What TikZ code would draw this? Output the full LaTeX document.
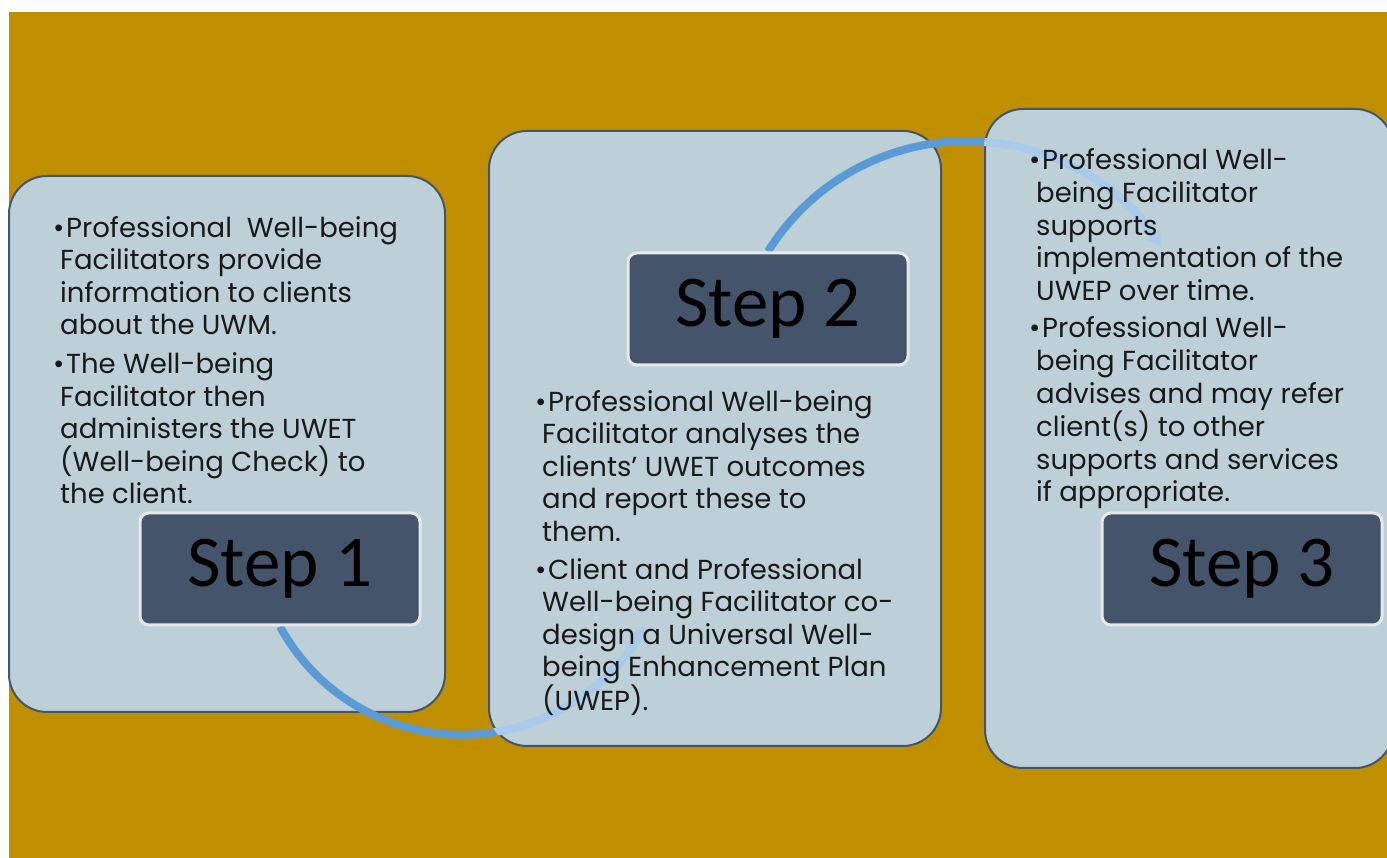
\documentclass[tikz,border=0pt]{standalone}
\usepackage{fontspec}
\setmainfont{Poppins}
\newfontfamily\stepfont{Carlito}
\usepackage{xcolor}
\usepackage{tikz}
\usetikzlibrary{arrows.meta, positioning}

\definecolor{bgGold}{HTML}{BF8F00}
\definecolor{panelFill}{HTML}{BED0D7}
\definecolor{slate}{HTML}{44546A}
\definecolor{flowBlue}{HTML}{5B9BD5}
\definecolor{flowPale}{HTML}{A9CAEA}
\definecolor{rim}{HTML}{E8E8E8}

% stacking order: each panel hides the part of the previous arc that runs under it
\pgfdeclarelayer{ground}
\pgfdeclarelayer{panelA}
\pgfdeclarelayer{arcA}
\pgfdeclarelayer{panelB}
\pgfdeclarelayer{arcB}
\pgfdeclarelayer{panelC}
\pgfsetlayers{ground,panelA,arcA,panelB,arcB,panelC,main}

\newcommand{\bul}{\hspace*{-7pt}\makebox[13pt][l]{\textbullet}}

\begin{document}
\begin{tikzpicture}[
    x=1pt, y=1pt,
    panel/.style={rectangle, draw=slate, line width=2pt, fill=panelFill, rounded corners=38pt, inner sep=0pt},
    stepbox/.style={rectangle, draw=rim, line width=3pt, fill=slate, rounded corners=9pt, minimum width=280pt, minimum height=112pt, text=black, font=\stepfont\fontsize{73}{80}\selectfont},
    notes/.style={anchor=base west, inner sep=0pt, align=left, text=black!90, font=\fontsize{27.5}{32.6}\selectfont},
    flow/.style={line width=8pt, draw=flowBlue, -{Triangle[width=16pt,length=14pt]}},
    flowhidden/.style={flow, draw=flowPale}
]
    \begin{pgfonlayer}{ground}
        \fill[white] (0,0) rectangle (1387,858);
        \fill[bgGold] (9,0) rectangle (1387,846);
    \end{pgfonlayer}
    \useasboundingbox (0,0) rectangle (1387,858);

    % the three panels
    \begin{pgfonlayer}{panelA}
        \node (box1) [panel, minimum width=436pt, minimum height=536pt] at (227,414) {};
    \end{pgfonlayer}
    \begin{pgfonlayer}{panelB}
        \node (box2) [panel, minimum width=452pt, minimum height=615pt] at (715,419.5) {};
    \end{pgfonlayer}
    \begin{pgfonlayer}{panelC}
        \node (box3) [panel, minimum width=408pt, minimum height=659pt] at (1189,419.5) {};
    \end{pgfonlayer}

    \node (s1) [stepbox] at (280,289) {Step 1};
    \node (s2) [stepbox] at (768,549) {Step 2};
    \node (s3) [stepbox] at (1242,289) {Step 3};

    % arcs between the steps
    \begin{pgfonlayer}{arcA}
        \draw [flow] (s1.south) arc[start angle=208.5, end angle=331.5, radius=207pt];
    \end{pgfonlayer}
    \begin{pgfonlayer}{panelB}
        \begin{scope}
            \clip [rounded corners=38pt] (box2.south west) rectangle (box2.north east);
            \draw [flowhidden] (s1.south) arc[start angle=208.5, end angle=331.5, radius=207pt];
        \end{scope}
    \end{pgfonlayer}
    \begin{pgfonlayer}{arcB}
        \draw [flow] (s2.north) arc[start angle=148.2, end angle=33.3, radius=233pt];
    \end{pgfonlayer}
    \begin{pgfonlayer}{panelC}
        \begin{scope}
            \clip [rounded corners=38pt] (box3.south west) rectangle (box3.north east);
            \draw [flowhidden] (s2.north) arc[start angle=148.2, end angle=33.3, radius=233pt];
        \end{scope}
    \end{pgfonlayer}

    % bullet texts (placed by the baseline of their last line)
    \node (t1) [notes] at (60,354) {\bul Professional\ \ Well-being\\
        Facilitators provide\\
        information to clients\\
        about the UWM.\\[6pt]
        \bul The Well-being\\
        Facilitator then\\
        administers the UWET\\
        (Well-being Check) to\\
        the client.};
    \node (t2) [notes] at (542,147) {\bul Professional Well-being\\
        Facilitator analyses the\\
        clients’ UWET outcomes\\
        and report these to\\
        them.\\[5pt]
        \bul Client and Professional\\
        Well-being Facilitator co-\\
        design a Universal Well-\\
        being Enhancement Plan\\
        (UWEP).};
    \node (t3) [notes] at (1036,356) {\bul Professional Well-\\
        being Facilitator\\
        supports\\
        implementation of the\\
        UWEP over time.\\[5pt]
        \bul Professional Well-\\
        being Facilitator\\
        advises and may refer\\
        client(s) to other\\
        supports and services\\
        if appropriate.};
\end{tikzpicture}
\end{document}
